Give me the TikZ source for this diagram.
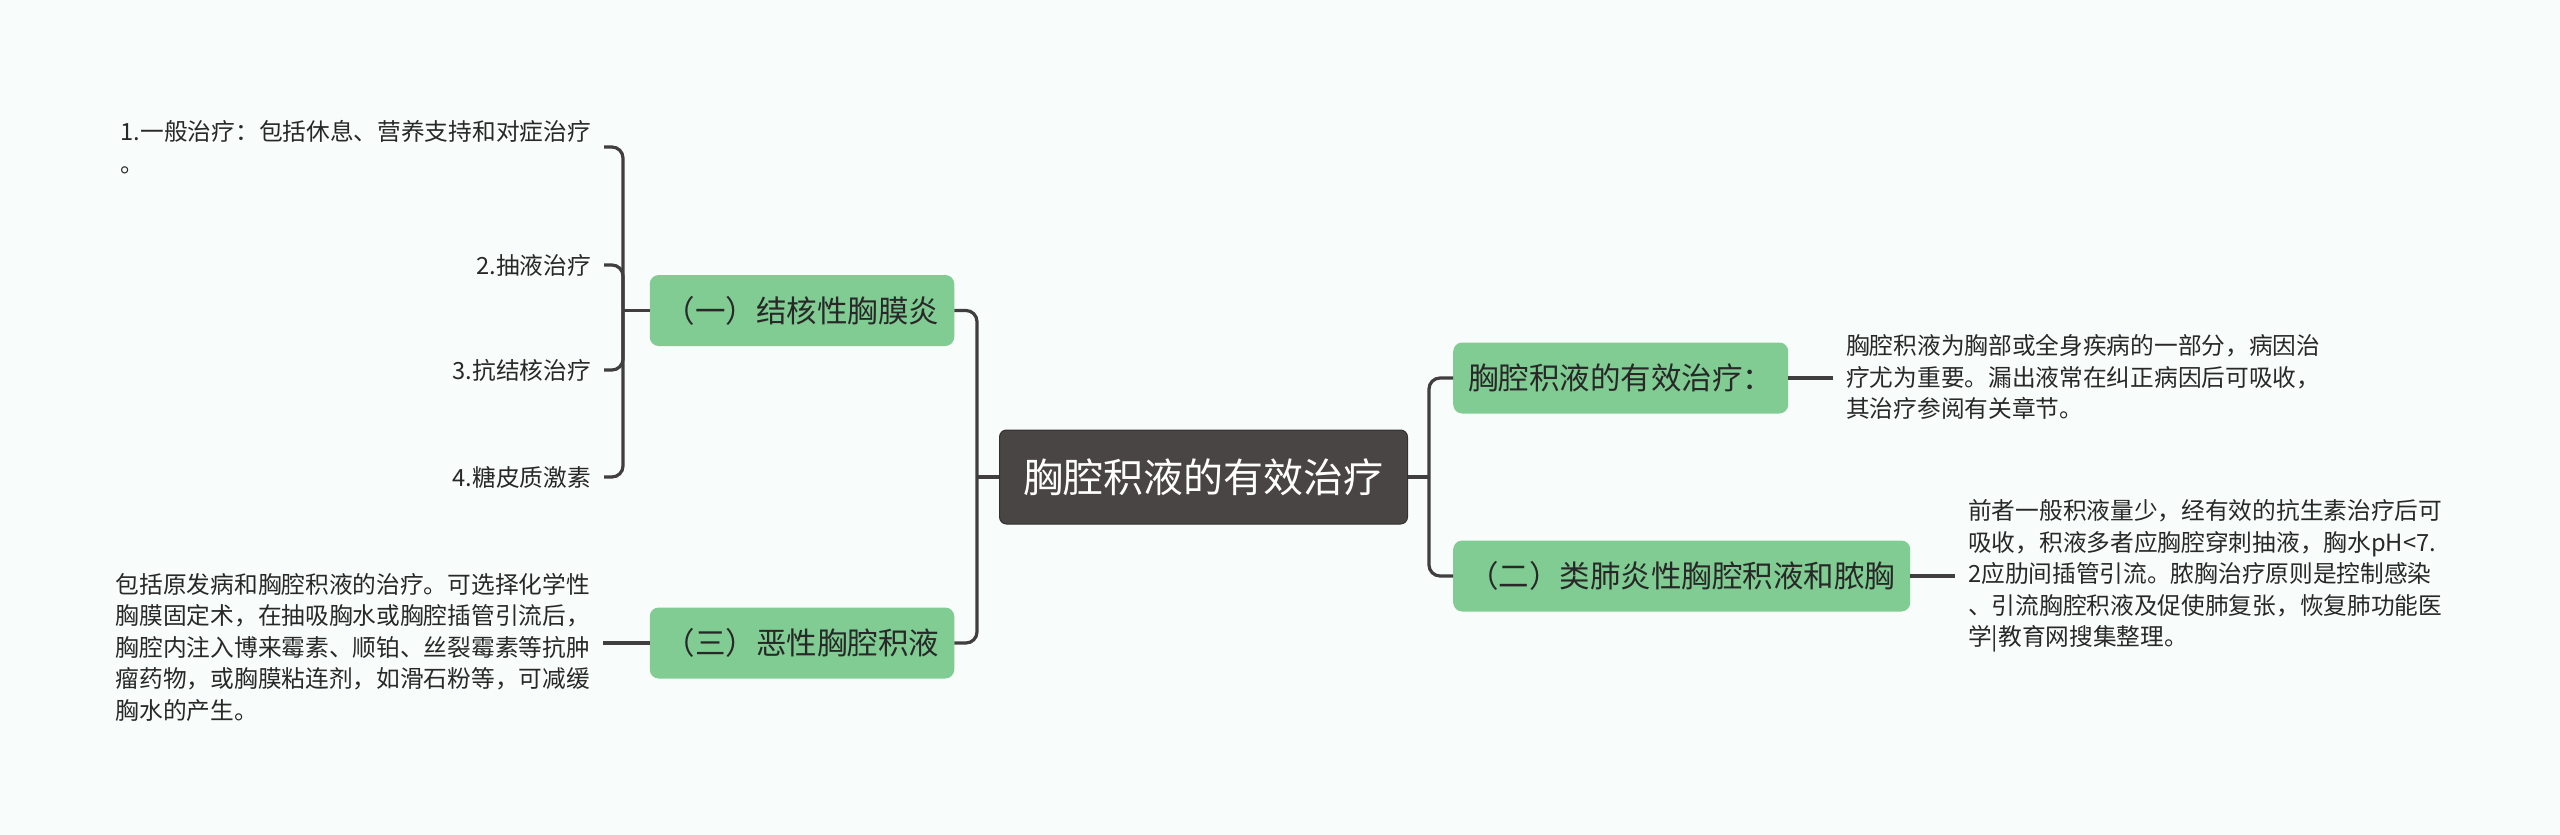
\documentclass[tikz,border=0pt]{standalone}
\usepackage{fontspec}
\setmainfont{Noto Sans CJK SC}
\definecolor{bgc}{RGB}{248,253,252}
\definecolor{greenc}{RGB}{128,204,146}
\definecolor{rootc}{RGB}{74,69,69}
\definecolor{rootline}{RGB}{52,48,48}
\definecolor{linec}{RGB}{64,62,62}
\definecolor{txtc}{RGB}{40,40,40}
\begin{document}
\begin{tikzpicture}[x=1pt,y=-1pt,
  conn/.style={draw=linec, line width=3.2pt},
  rconn/.style={conn, rounded corners=11pt},
  rootbox/.style={fill=rootc, draw=rootline, line width=1pt, rounded corners=7pt, text=white,
    font=\fontsize{40}{48}\selectfont, minimum height=94pt, inner xsep=24pt, inner ysep=0pt},
  topic/.style={fill=greenc, rounded corners=9pt, text=txtc,
    font=\fontsize{30.5}{36}\selectfont, minimum height=71pt, inner xsep=15pt, inner ysep=0pt},
  leaf/.style={text=txtc, font=\fontsize{23.7}{31.5}\selectfont, inner xsep=13pt, inner ysep=0pt}
]
\fill[bgc] (0,0) rectangle (2560,835);
\useasboundingbox (0,0) rectangle (2560,835);

\node[rootbox] (root) at (1203.5,477) {胸腔积液的有效治疗};
\node[topic] (b1) at (802,310.5) {（一）结核性胸膜炎};
\node[topic] (b3) at (802,643) {（三）恶性胸腔积液};
\node[topic, anchor=west] (r1) at (1453,378) {胸腔积液的有效治疗：};
\node[topic, anchor=west] (r2) at (1453,576) {（二）类肺炎性胸腔积液和脓胸};

\node[leaf, anchor=east, align=left] (t1) at (604,147) {1.一般治疗：包括休息、营养支持和对症治疗\\。};
\node[leaf, anchor=east] (t2) at (604,265) {2.抽液治疗};
\node[leaf, anchor=east] (t3) at (604,370) {3.抗结核治疗};
\node[leaf, anchor=east] (t4) at (604,477) {4.糖皮质激素};
\node[leaf, anchor=east, align=left] (t5) at (603,647) {包括原发病和胸腔积液的治疗。可选择化学性\\胸膜固定术，在抽吸胸水或胸腔插管引流后，\\胸腔内注入博来霉素、顺铂、丝裂霉素等抗肿\\瘤药物，或胸膜粘连剂，如滑石粉等，可减缓\\胸水的产生。};
\node[leaf, anchor=west, align=left] (t6) at (1833,377) {胸腔积液为胸部或全身疾病的一部分，病因治\\疗尤为重要。漏出液常在纠正病因后可吸收，\\其治疗参阅有关章节。};
\node[leaf, anchor=west, align=left] (t7) at (1955,576) {前者一般积液量少，经有效的抗生素治疗后可\\吸收，积液多者应胸腔穿刺抽液，胸水pH<7.\\2应肋间插管引流。脓胸治疗原则是控制感染\\、引流胸腔积液及促使肺复张，恢复肺功能医\\学|教育网搜集整理。};

\coordinate (j1) at (623,310.5);
\coordinate (j0) at (977,477);
\coordinate (j2) at (1429,477);

\draw[rconn] (t1.east) -| (j1);
\draw[rconn] (t2.east) -| (j1);
\draw[rconn] (t3.east) -| (j1);
\draw[rconn] (t4.east) -| (j1);
\draw[conn] (j1) -- (b1.west);

\draw[rconn] (b1.east) -| (j0);
\draw[rconn] (b3.east) -| (j0);
\draw[conn] (j0) -- (root.west);

\draw[conn] (root.east) -- (j2);
\draw[rconn] (r1.west) -| (j2);
\draw[rconn] (r2.west) -| (j2);

\draw[conn] (b3.west) -- (b3.west -| t5.east);
\draw[conn] (r1.east) -- (r1.east -| t6.west);
\draw[conn] (r2.east) -- (r2.east -| t7.west);
\end{tikzpicture}
\end{document}
